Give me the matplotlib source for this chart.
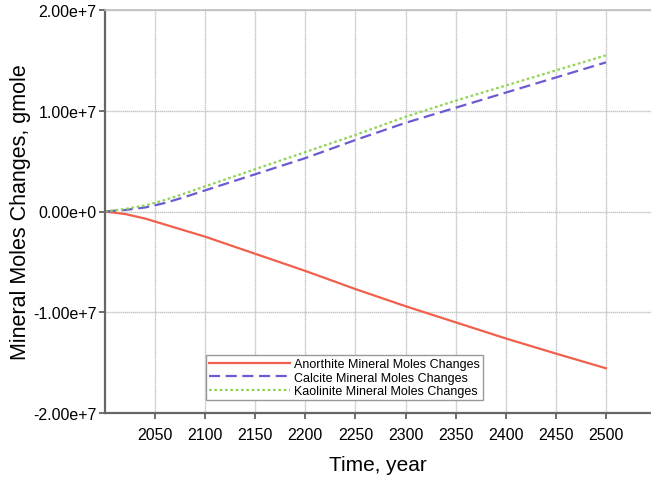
import matplotlib
matplotlib.use("Agg")
import matplotlib.pyplot as plt
from matplotlib.ticker import FuncFormatter

plt.rcParams['font.family'] = ['Liberation Sans', 'DejaVu Sans']

years = [2000, 2020, 2040, 2060, 2080, 2100, 2150, 2200, 2250, 2300, 2350, 2400, 2450, 2500]
anorthite = [0.0, -0.025e7, -0.07e7, -0.13e7, -0.19e7, -0.25e7, -0.42e7, -0.59e7, -0.77e7, -0.94e7, -1.10e7, -1.26e7, -1.41e7, -1.556e7]
calcite = [0.0, 0.015e7, 0.04e7, 0.085e7, 0.145e7, 0.21e7, 0.37e7, 0.53e7, 0.71e7, 0.88e7, 1.03e7, 1.18e7, 1.33e7, 1.48e7]
kaolinite = [0.0, 0.025e7, 0.06e7, 0.115e7, 0.18e7, 0.25e7, 0.42e7, 0.59e7, 0.76e7, 0.94e7, 1.10e7, 1.25e7, 1.40e7, 1.55e7]

labels = ["Anorthite Mineral Moles Changes",
          "Calcite Mineral Moles Changes",
          "Kaolinite Mineral Moles Changes"]
xticks = [2050, 2100, 2150, 2200, 2250, 2300, 2350, 2400, 2450, 2500]
yticks = [-2e7, -1e7, 0, 1e7, 2e7]

fig = plt.figure(figsize=(6.51, 4.81), dpi=100)
ax = fig.add_axes([105/651, 67/481, 1 - 105/651, 403/481])

ax.plot(years, anorthite, color='#f0604c', lw=1.6, ls='-', label=labels[0])
ax.plot(years, calcite, color='#6a5cd0', lw=1.6, ls=(0, (5, 2.5)), label=labels[1])
ax.plot(years, kaolinite, color='#8fd452', lw=1.6, ls=(0, (1.2, 1.2)), label=labels[2])

ax.set_xlim(2000, 2545)
ax.set_ylim(-2e7, 2e7)
ax.set_xticks(xticks)
ax.set_yticks(yticks)

def fmt(v, pos):
    if v == 0:
        return "0.00e+0"
    s = f"{v:.2e}"
    mant, exp = s.split('e')
    return f"{mant}e{int(exp):+d}"

ax.yaxis.set_major_formatter(FuncFormatter(fmt))
ax.tick_params(axis='both', labelsize=11.5, length=4, width=1.2, color='#555555', direction='out', pad=2)
ax.tick_params(axis='x', pad=6)
ax.grid(True, color='#c4c4c4', lw=1.0, ls=(0, (1, 0.4)))
ax.set_axisbelow(True)

for s in ['left', 'bottom']:
    ax.spines[s].set_color('#666666')
    ax.spines[s].set_linewidth(1.6)
ax.spines['right'].set_visible(False)
ax.spines['top'].set_color('#bdbdbd')
ax.spines['top'].set_linewidth(1.2)

ax.set_xlabel("Time, year", fontsize=15)
ax.set_ylabel("Mineral Moles Changes, gmole", fontsize=15.5)
ax.xaxis.set_label_coords(0.5, -0.105)
ax.yaxis.set_label_coords(-0.135, 0.5)

leg = ax.legend(loc='lower left', bbox_to_anchor=(0.185, 0.032), borderaxespad=0,
                fontsize=9, handlelength=6.5, handletextpad=0.3, labelspacing=0.1,
                borderpad=0.25, fancybox=False, framealpha=1, edgecolor='#999999')
leg.get_frame().set_linewidth(1.0)

fig.savefig("out.png", dpi=100)
